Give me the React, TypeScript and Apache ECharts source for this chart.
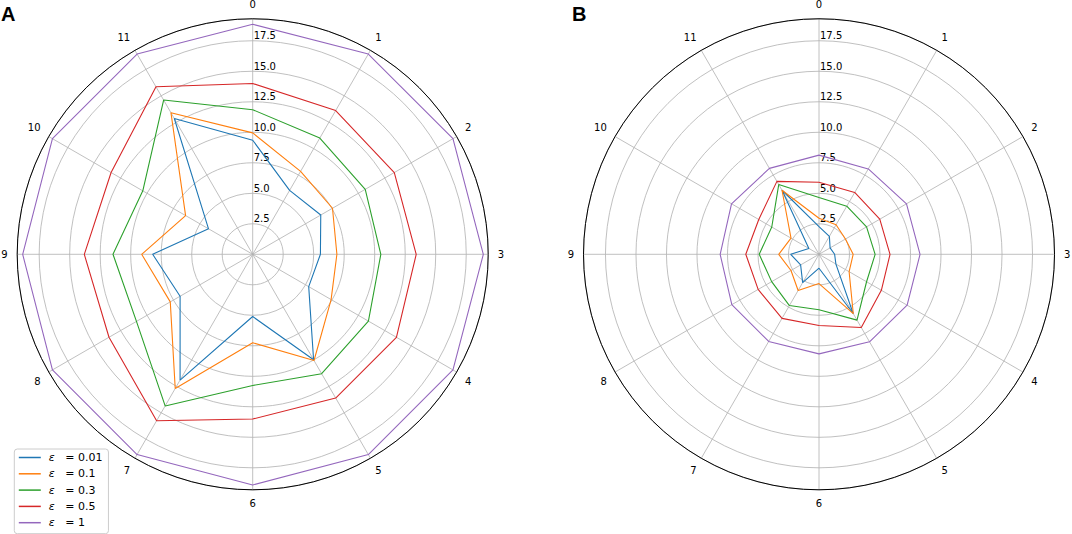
import React, { useEffect, useRef } from "react";
import * as echarts from "echarts";

// Angular categories (clockwise from top) and radial ticks
const angleLabels = ["0", "1", "2", "3", "4", "5", "6", "7", "8", "9", "10", "11"];
const radiusTickLabels = ["2.5", "5.0", "7.5", "10.0", "12.5", "15.0", "17.5"];
const RADIUS_STEP = 2.5;
const RADIUS_MAX = 19.3;

const seriesNames = ["ε = 0.01", "ε = 0.1", "ε = 0.3", "ε = 0.5", "ε = 1"];
const seriesColors = ["#1f77b4", "#ff7f0e", "#2ca02c", "#d62728", "#9467bd"];

// Panel A values (index = angular category 0..11)
const a_eps001 = [9.35, 6.05, 6.44, 5.55, 5.3, 9.98, 5.1, 11.9, 6.87, 8.2, 4.18, 12.85];
const a_eps01 = [9.95, 7.85, 7.55, 6.9, 7.42, 10.05, 7.25, 12.7, 7.8, 9.1, 6.35, 13.4];
const a_eps03 = [11.85, 11.0, 10.65, 10.5, 10.95, 11.3, 10.75, 14.35, 11.0, 11.45, 10.4, 14.6];
const a_eps05 = [14.0, 13.6, 13.4, 13.4, 13.6, 13.6, 13.5, 15.75, 13.6, 13.8, 13.4, 15.85];
const a_eps1 = [18.85, 18.95, 18.95, 18.9, 18.95, 18.95, 18.9, 18.95, 18.95, 18.85, 18.95, 18.95];

// Panel B values
const b_eps001 = [2.27, 1.7, 1.05, 1.28, 1.6, 5.6, 1.14, 2.68, 1.74, 2.32, 0.96, 6.06];
const b_eps01 = [2.95, 2.8, 2.5, 2.8, 2.85, 5.62, 2.4, 3.42, 2.65, 3.3, 2.65, 6.06];
const b_eps03 = [4.65, 4.55, 4.5, 4.6, 4.5, 6.23, 4.55, 4.85, 4.48, 4.9, 4.47, 6.6];
const b_eps05 = [5.9, 5.85, 5.75, 5.82, 5.9, 6.93, 5.84, 6.06, 5.76, 6.0, 5.7, 6.9];
const b_eps1 = [8.13, 8.08, 8.28, 8.28, 8.34, 8.28, 8.16, 8.25, 8.25, 8.1, 8.28, 8.13];

const panelA = [a_eps001, a_eps01, a_eps03, a_eps05, a_eps1];
const panelB = [b_eps001, b_eps01, b_eps03, b_eps05, b_eps1];

const FONT = "DejaVu Sans";
const GRID = "#b0b0b0";

function closedRing(values: number[]) {
  const pts = values.map((v, i) => [v, i]);
  pts.push([values[0], values.length]);
  return pts;
}

function makeAngleAxis(polarIndex: number) {
  return {
    polarIndex,
    type: "value",
    min: 0,
    max: angleLabels.length,
    interval: 1,
    startAngle: 90,
    clockwise: true,
    axisLine: { show: true, lineStyle: { color: "#000", width: 1 } },
    axisTick: { show: false },
    axisLabel: {
      show: true,
      margin: 9.5,
      color: "#000",
      fontFamily: FONT,
      fontSize: 10,
      lineHeight: 9,
      formatter: (v: number) => (v < angleLabels.length ? angleLabels[v] : ""),
    },
    splitLine: { show: true, lineStyle: { color: GRID, width: 0.8 } },
  };
}

function makeRadiusAxis(polarIndex: number) {
  return {
    polarIndex,
    type: "value",
    min: 0,
    max: RADIUS_MAX,
    interval: RADIUS_STEP,
    axisLine: { show: false },
    axisTick: { show: false },
    axisLabel: {
      show: true,
      margin: -1,
      align: "left",
      verticalAlign: "bottom",
      color: "#000",
      fontFamily: FONT,
      fontSize: 10,
      showMinLabel: false,
      showMaxLabel: false,
      formatter: (v: number) => {
        const idx = Math.round(v / RADIUS_STEP) - 1;
        return idx >= 0 && idx < radiusTickLabels.length && Math.abs(v - (idx + 1) * RADIUS_STEP) < 1e-6
          ? radiusTickLabels[idx]
          : "";
      },
    },
    splitLine: { show: true, showMaxLine: false, lineStyle: { color: GRID, width: 0.8 } },
  };
}

export default function App() {
  const ref = useRef<HTMLDivElement>(null);

  useEffect(() => {
    if (!ref.current) return;
    const chart = echarts.init(ref.current, null, { renderer: "svg" });

    const series: any[] = [];
    [panelA, panelB].forEach((panel, p) => {
      panel.forEach((vals, s) => {
        series.push({
          type: "line",
          name: seriesNames[s],
          coordinateSystem: "polar",
          polarIndex: p,
          data: closedRing(vals),
          symbol: "none",
          showSymbol: false,
          smooth: false,
          lineStyle: { color: seriesColors[s], width: 1.1 },
          itemStyle: { color: seriesColors[s] },
          z: 3,
        });
      });
    });

    const titleStyle = { fontSize: 20, fontWeight: "bold", fontFamily: "Liberation Sans", color: "#000" };

    chart.setOption({
      animation: false,
      backgroundColor: "#fff",
      title: [
        { text: "A", left: 1, top: 4, padding: 0, textStyle: titleStyle },
        { text: "B", left: 572, top: 4, padding: 0, textStyle: titleStyle },
      ],
      polar: [
        { center: [252.7, 254.3], radius: 235.5 },
        { center: [819, 254.3], radius: 235.5 },
      ],
      angleAxis: [makeAngleAxis(0), makeAngleAxis(1)],
      radiusAxis: [makeRadiusAxis(0), makeRadiusAxis(1)],
      legend: {
        data: seriesNames,
        orient: "vertical",
        left: 14.3,
        top: 449,
        icon: "rect",
        itemWidth: 22,
        itemHeight: 1.5,
        itemGap: 4.3,
        selectedMode: false,
        padding: [2.5, 6, 5, 4.5],
        backgroundColor: "rgba(255,255,255,0.8)",
        borderColor: "#cccccc",
        borderWidth: 1,
        borderRadius: 3,
        textStyle: {
          fontFamily: FONT,
          fontSize: 11,
          color: "#000",
          lineHeight: 12,
          padding: [0, 0, 0, 3],
          rich: {
            e: { fontFamily: FONT, fontStyle: "italic", fontSize: 11, color: "#000", lineHeight: 12 },
            v: { fontFamily: FONT, fontSize: 11, color: "#000", lineHeight: 12 },
          },
        },
        formatter: (name: string) => "{e|ε}{v|   = " + name.split("= ")[1] + "}",
      },
      series,
    });

    return () => chart.dispose();
  }, []);

  return (
    <div
      ref={ref}
      style={{ position: "fixed", left: 0, top: 0, width: 1072, height: 534 }}
    />
  );
}
